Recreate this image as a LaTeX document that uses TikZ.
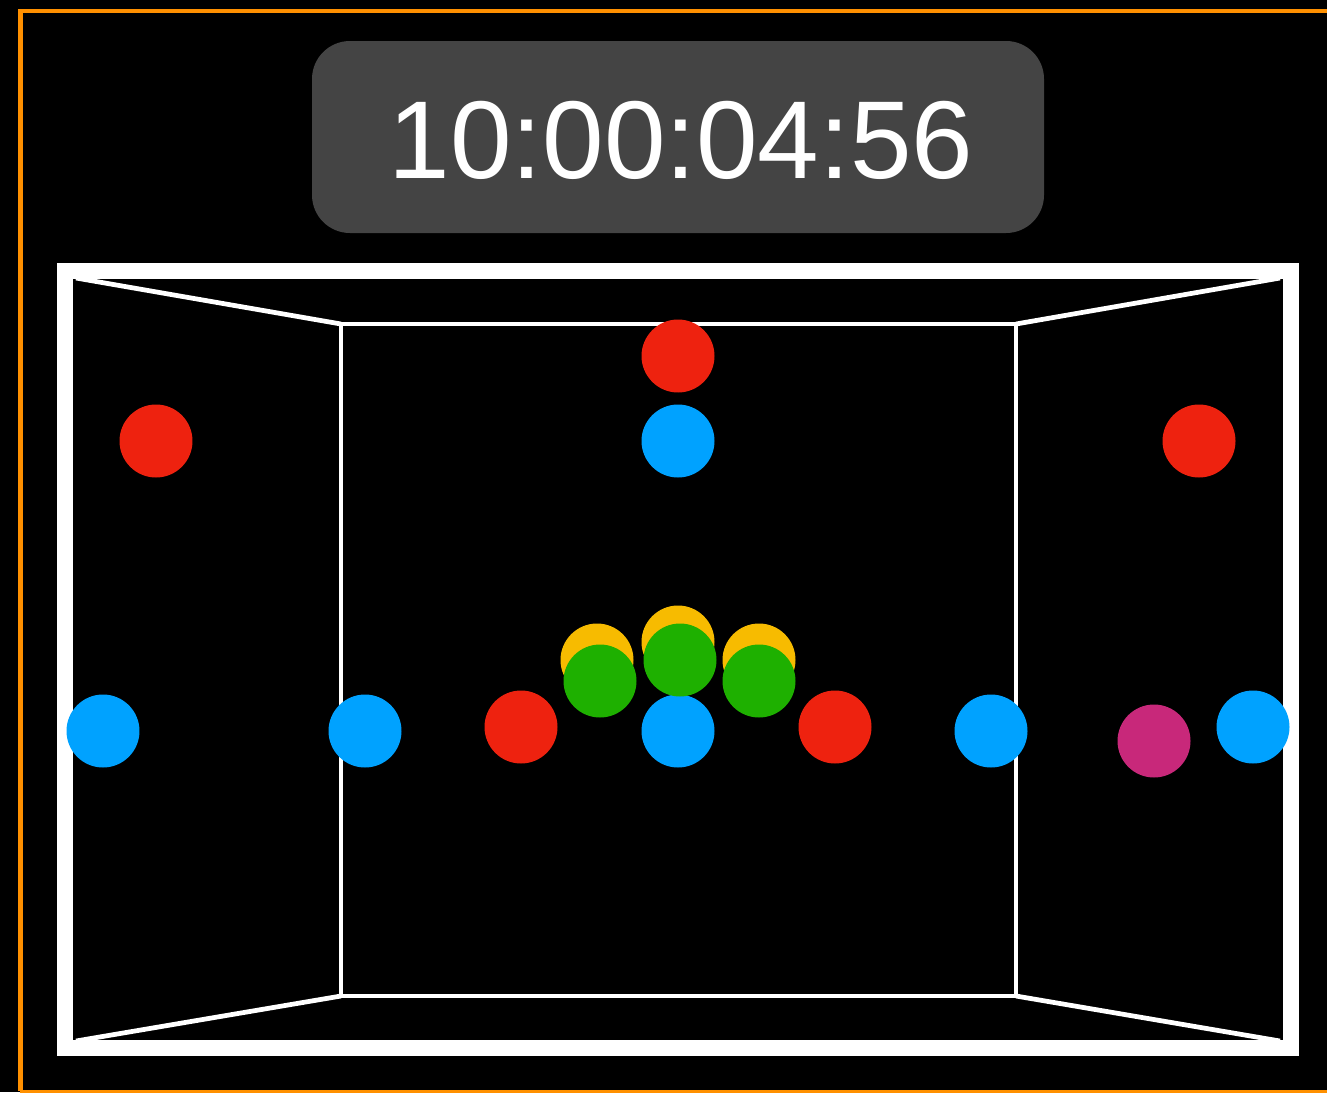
\documentclass[tikz,border=0pt]{standalone}
\usepackage{fontspec}
\setmainfont{Liberation Sans}
\definecolor{ballred}{HTML}{EE220F}
\definecolor{ballblue}{HTML}{00A2FF}
\definecolor{ballyellow}{HTML}{F7BB00}
\definecolor{ballgreen}{HTML}{1EB000}
\definecolor{ballpink}{HTML}{C8287A}
\definecolor{frameorange}{HTML}{FF9000}
\definecolor{clockgray}{HTML}{444444}
\tikzset{
    ball/.style={circle, minimum size=1.46cm, inner sep=0pt},
    wall/.style={draw=white, line width=0.095cm},
}

\begin{document}
\begin{tikzpicture}[x=0.02cm, y=-0.02cm]
    % Background
    \fill[black] (0,0) rectangle (1327,1092);
    \useasboundingbox (0,0) rectangle (1327,1092);
    \draw[frameorange, line width=0.1cm] (20,1091) -- (20,11) -- (1340,11);
    \draw[frameorange, line width=0.06cm] (20,1091) -- (1340,1091);

    % Draw clock
    \fill[clockgray, rounded corners=0.76cm] (312,41) rectangle (1044,233);
    \node[text=white, inner sep=0pt, font=\fontsize{63}{63}\selectfont] (clock) at (681,140) {10:00:04:56};

    % Draw room
    \coordinate (bl) at (341,996);
    \coordinate (br) at (1016,996);
    \coordinate (tl) at (341,324);
    \coordinate (tr) at (1016,324);
    \draw[wall] (tl) rectangle (br);
    \draw[wall] (tl) -- (76,278);
    \draw[wall] (tr) -- (1280,278);
    \draw[wall] (bl) -- (76,1041);
    \draw[wall] (br) -- (1280,1041);
    \draw[white, line width=0.32cm] (65,271) rectangle (1291,1048);

    % Draw balls
    \node[ball, fill=ballred] (top1) at (678,356) {};
    \node[ball, fill=ballblue] (top2) at (678,441) {};
    \node[ball, fill=ballred] (left1) at (156,441) {};
    \node[ball, fill=ballred] (right1) at (1199,441) {};
    \node[ball, fill=ballblue] (row1) at (103,731) {};
    \node[ball, fill=ballblue] (row2) at (365,731) {};
    \node[ball, fill=ballred] (row3) at (521,727) {};
    \node[ball, fill=ballblue] (row4) at (678,731) {};
    \node[ball, fill=ballred] (row5) at (835,727) {};
    \node[ball, fill=ballblue] (row6) at (991,731) {};
    \node[ball, fill=ballpink] (row7) at (1154,741) {};
    \node[ball, fill=ballblue] (row8) at (1253,727) {};
    \node[ball, fill=ballyellow] (y1) at (597,660) {};
    \node[ball, fill=ballyellow] (y2) at (678,642) {};
    \node[ball, fill=ballyellow] (y3) at (759,660) {};
    \node[ball, fill=ballgreen] (g1) at (600,681) {};
    \node[ball, fill=ballgreen] (g2) at (680,660) {};
    \node[ball, fill=ballgreen] (g3) at (759,681) {};
\end{tikzpicture}
\end{document}
